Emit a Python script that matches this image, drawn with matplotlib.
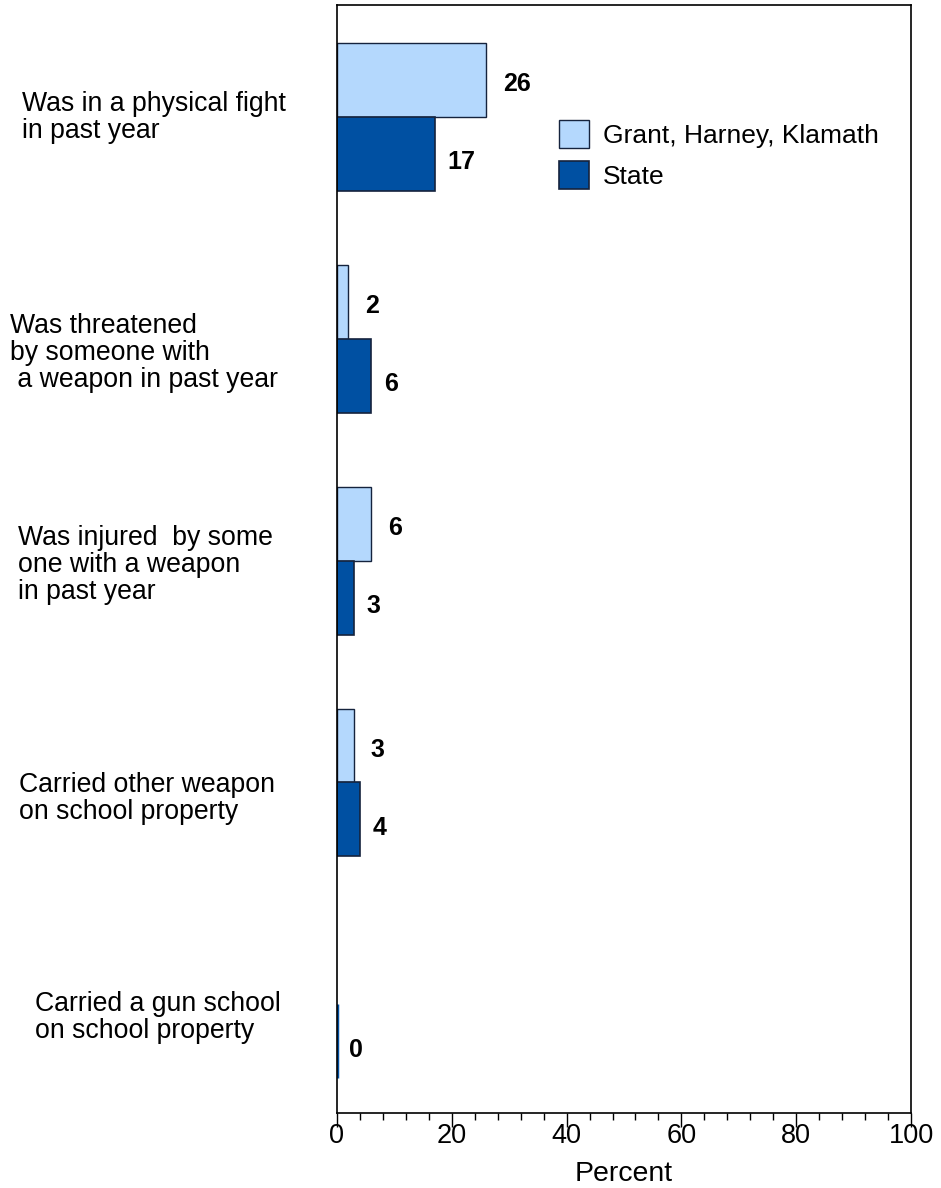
import numpy as np
import matplotlib.pyplot as plt
from matplotlib.ticker import MultipleLocator
import matplotlib.transforms as mtransforms

# data
categories = [
    "Was in a physical fight\nin past year",
    "Was threatened\nby someone with\n a weapon in past year",
    "Was injured  by some\none with a weapon\nin past year",
    "Carried other weapon\non school property",
    "Carried a gun school\non school property",
]
series_names = ["Grant, Harney, Klamath", "State"]
local_pct = [26, 2, 6, 3, np.nan]
state_pct = [17, 6, 3, 4, 0]

light = "#B4D8FD"
dark = "#0050A2"
edge = "#15233D"

plt.rcParams['font.family'] = ['Liberation Sans', 'DejaVu Sans']

fig = plt.figure(figsize=(9.41, 11.88), dpi=100)
ax = fig.add_axes([337 / 941, 75 / 1188, 574 / 941, 1108 / 1188])

y = np.arange(len(categories))
h = 1 / 3
b1 = ax.barh(y - h / 2, local_pct, height=h, color=light, edgecolor=edge, linewidth=1,
             label=series_names[0])
b2 = ax.barh(y + h / 2, state_pct, height=h, color=dark, edgecolor=edge, linewidth=1.2,
             label=series_names[1])

# zero-width bar: give it a visible outline in the series colour
for rect, v in zip(b2, state_pct):
    if v == 0:
        rect.set_edgecolor(dark)
        rect.set_linewidth(2.5)

# value labels
for bars, vals, dx, dy in [(b1, local_pct, 12, -3), (b2, state_pct, 9, -6)]:
    for rect, v in zip(bars, vals):
        if np.isnan(v):
            continue
        ax.annotate(f"{v:g}", (v, rect.get_y() + rect.get_height() / 2),
                    xytext=(dx, dy), textcoords='offset points',
                    ha='left', va='center', fontsize=18, fontweight='bold')

ax.set_xlim(0, 100)
ax.set_ylim(4.49, -0.505)
ax.set_yticks([])
ax.xaxis.set_major_locator(MultipleLocator(20))
ax.xaxis.set_minor_locator(MultipleLocator(4))
ax.tick_params(axis='x', which='major', direction='out', length=10, width=1,
               pad=-3, labelsize=19.5)
ax.tick_params(axis='x', which='minor', direction='out', length=5, width=1)
ax.set_xlabel("Percent", fontsize=20.5, labelpad=9)
for s in ax.spines.values():
    s.set_linewidth(1.2)

# category labels placed left of the axes
label_x = [22, 10, 18, 19, 35]
label_dy = [0.0, 1.063, 2.02, 3.07, 4.06]
trans = mtransforms.blended_transform_factory(fig.transFigure, ax.transData)
for txt, xp, yp in zip(categories, label_x, label_dy):
    fig.text(xp / 941, yp, txt, transform=trans, ha='left', va='center',
             fontsize=19.2, linespacing=1.05)

ax.legend(loc='upper left', bbox_to_anchor=(0.387, 0.896), frameon=False,
          fontsize=19, handlelength=1.15, handleheight=1.25, handletextpad=0.5,
          labelspacing=0.5, borderpad=0, borderaxespad=0)

fig.savefig("out.png", dpi=100)
